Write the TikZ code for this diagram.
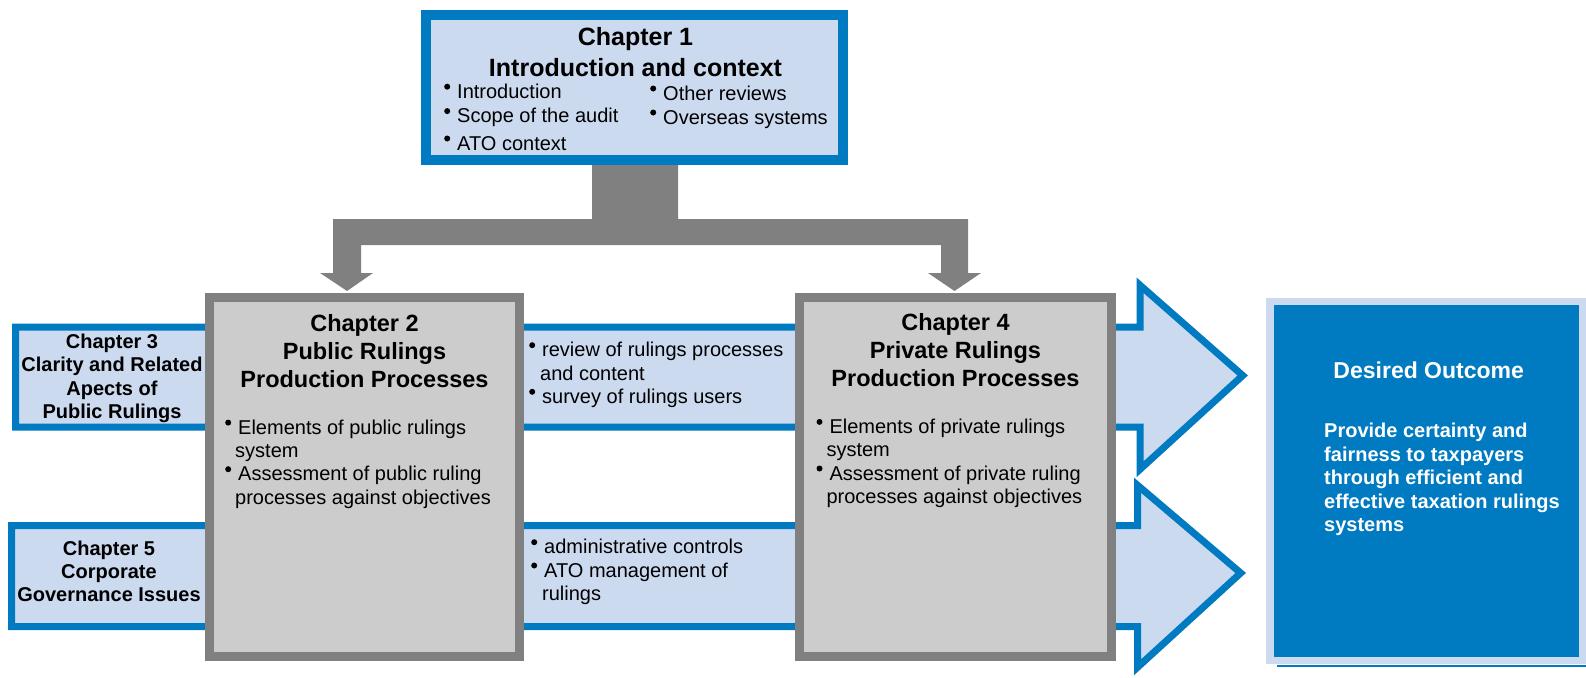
\documentclass[tikz,border=0pt]{standalone}
\usepackage{fontspec}
\setmainfont{Liberation Sans}
\definecolor{bblue}{RGB}{0,122,193}
\definecolor{lblue}{RGB}{204,218,240}
\definecolor{dgray}{RGB}{128,128,128}
\definecolor{lgray}{RGB}{204,204,204}
\newcommand\bul{\makebox[13pt][l]{\tikz[x=1pt,y=1pt,baseline=0pt]{\path[use as bounding box] (0,0) rectangle (6,1); \fill (3,11.5) circle[radius=3];}}}
\tikzset{
  bluebox/.style={draw=bblue, fill=lblue, line width=10pt, inner sep=0pt},
  graybox/.style={draw=dgray, fill=lgray, line width=9pt, inner sep=0pt},
  outbox/.style={draw=lblue, fill=bblue, line width=7.5pt, inner sep=0pt},
  blockarrow/.style={draw=bblue, fill=lblue, line width=7pt, miter limit=10},
  grayarrow/.style={fill=dgray},
  ttlA/.style={font=\fontsize{25pt}{31pt}\selectfont\bfseries, align=center, inner sep=0pt},
  ttlB/.style={font=\fontsize{23.5pt}{28.3pt}\selectfont\bfseries, align=center, inner sep=0pt},
  ttlC/.style={font=\fontsize{20pt}{23.2pt}\selectfont\bfseries, align=center, inner sep=0pt},
  blist/.style={font=\fontsize{20pt}{23.3pt}\selectfont, align=left, inner sep=0pt, anchor=base west},
  outttl/.style={font=\fontsize{23pt}{27pt}\selectfont\bfseries, text=white, inner sep=0pt, anchor=base},
  outtxt/.style={font=\fontsize{20pt}{23.5pt}\selectfont\bfseries, text=white, align=left, inner sep=0pt, anchor=base west}
}
\begin{document}
\begin{tikzpicture}[x=1pt,y=-1pt]
\useasboundingbox (0,0) rectangle (1586,677);
% blue block arrows (chapters 3 and 5 run into them)
\draw[blockarrow] (15.5,327) -- (1140,327) -- (1140,285.2) -- (1242.7,375.5) -- (1140,469.3) -- (1140,427) -- (15.5,427) -- cycle;
\draw[blockarrow] (11.5,525.5) -- (1137.5,525.5) -- (1137.5,485.2) -- (1240.7,573) -- (1137.5,667.3) -- (1137.5,626.5) -- (11.5,626.5) -- cycle;
% grey connector from chapter 1 to chapters 2 and 4
\fill[grayarrow] (592,160) -- (678,160) -- (678,219) -- (968,219) -- (968,273) -- (981,273) -- (954.5,291) -- (928,273) -- (941,273) -- (941,245) -- (361,245) -- (361,273) -- (373,273) -- (347,291) -- (320,273) -- (333,273) -- (333,219) -- (592,219) -- cycle;
% boxes
\node[bluebox, minimum width=417pt, minimum height=145pt] (ch1) at (634.5,87.5) {};
\node[graybox, minimum width=310pt, minimum height=359pt] (ch2) at (364.5,477) {};
\node[graybox, minimum width=312pt, minimum height=359pt] (ch4) at (955.5,477) {};
\node[outbox, minimum width=312.5pt, minimum height=359pt] (out) at (1426.25,481) {};
\draw[bblue, line width=2.5pt] (1277,666) -- (1586,666);
% chapter 1 text (anchor base = baseline of the last line)
\node[ttlA, anchor=base] (c1title) at (635.5,76) {Chapter 1\\Introduction and context};
\node[blist, font=\fontsize{20pt}{24.4pt}\selectfont] (c1left) at (444,150) {\bul Introduction\\\bul Scope of the audit\\[3pt]\bul ATO context};
\node[blist, font=\fontsize{20pt}{24pt}\selectfont] (c1right) at (650,124) {\bul Other reviews\\\bul Overseas systems};
% chapter 2
\node[ttlB, anchor=base] (c2title) at (364.5,387.7) {Chapter 2\\Public Rulings\\Production Processes};
\node[blist] (c2list) at (225,504) {\bul Elements of public rulings\\\hspace*{10pt}system\\\bul Assessment of public ruling\\\hspace*{10pt}processes against objectives};
% chapter 4
\node[ttlB, anchor=base] (c4title) at (955.5,386.7) {Chapter 4\\Private Rulings\\Production Processes};
\node[blist] (c4list) at (816.3,503.3) {\bul Elements of private rulings\\\hspace*{10pt}system\\\bul Assessment of private ruling\\\hspace*{10pt}processes against objectives};
% chapters 3 and 5
\node[ttlC, anchor=base] (c3text) at (112,418.3) {Chapter 3\\Clarity and Related\\Apects of\\Public Rulings};
\node[ttlC, anchor=base] (c5text) at (109,601.5) {Chapter 5\\Corporate\\Governance Issues};
% middle bands
\node[blist] (m1list) at (529,403.3) {\bul review of rulings processes\\\hspace*{11pt}and content\\\bul survey of rulings users};
\node[blist] (m2list) at (531,600.3) {\bul administrative controls\\\bul ATO management of\\\hspace*{11pt}rulings};
% desired outcome
\node[outttl] (outtitle) at (1428.7,378.3) {Desired Outcome};
\node[outtxt] (outbody) at (1324,531.7) {Provide certainty and\\fairness to taxpayers\\through efficient and\\effective taxation rulings\\systems};
\end{tikzpicture}
\end{document}
